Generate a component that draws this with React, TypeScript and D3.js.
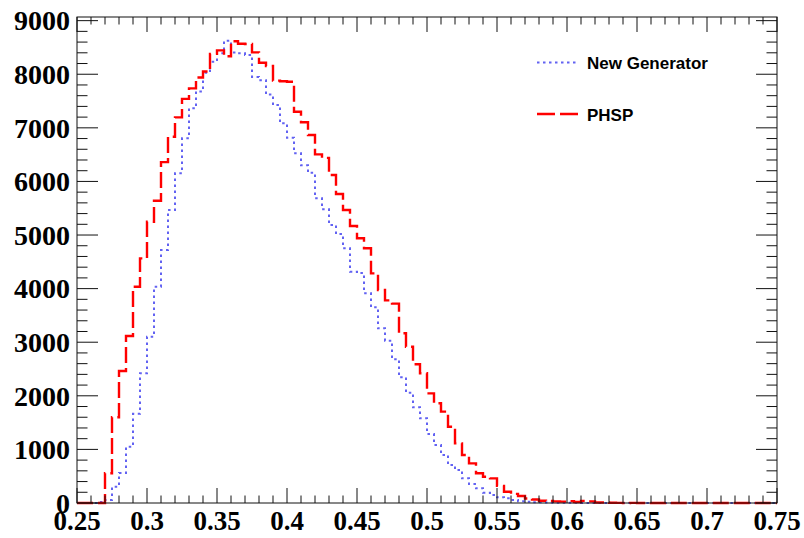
import React from "react";
import * as d3 from "d3";

// Histogram: 100 bins from 0.25 to 0.75 (bin width 0.005)
const xMin = 0.25;
const xMax = 0.75;
const nBins = 100;

// PHSP (red dashed) bin contents
const phsp: number[] = [
  0, 0, 0, 0, 554, 1599, 2463, 3116, 4036, 4565,
  5248, 5640, 6360, 6834, 7196, 7540, 7737, 7940, 8050, 8380,
  8445, 8335, 8615, 8570, 8563, 8408, 8215, 8153, 7880, 7870,
  7860, 7300, 7105, 6866, 6505, 6440, 6119, 5765, 5466, 5168,
  4939, 4752, 4285, 3974, 3780, 3720, 3166, 2916, 2590, 2420,
  2046, 1860, 1704, 1424, 1113, 896, 740, 554, 491, 460,
  320, 211, 170, 131, 85, 65, 43, 40, 30, 25,
  35, 20, 40, 30, 10, 8, 5, 3, 0, 2,
  0, 3, 0, 0, 2, 0, 0, 0, 0, 0,
  0, 0, 0, 0, 0, 0, 0, 0, 0, 0,
];

// New Generator (blue dotted) bin contents
const newGen: number[] = [
  0, 0, 0, 20, 56, 304, 560, 1050, 1665, 2420,
  3103, 4036, 4720, 5466, 6151, 6804, 7364, 7680, 8030, 8234,
  8390, 8625, 8405, 8390, 8360, 7950, 7890, 7620, 7425, 7084,
  6815, 6524, 6300, 6160, 5685, 5479, 5187, 5019, 4752, 4316,
  4290, 3912, 3651, 3259, 3028, 2681, 2345, 2058, 1785, 1580,
  1287, 1082, 896, 709, 616, 460, 354, 274, 193, 149,
  106, 87, 56, 31, 25, 15, 12, 8, 6, 5,
  4, 3, 2, 2, 1, 0, 1, 0, 0, 0,
  0, 0, 0, 0, 0, 0, 0, 0, 0, 0,
  0, 0, 0, 0, 0, 0, 0, 0, 0, 0,
];

const xTickValues = [0.25, 0.3, 0.35, 0.4, 0.45, 0.5, 0.55, 0.6, 0.65, 0.7, 0.75];
const xTickLabels = ["0.25", "0.3", "0.35", "0.4", "0.45", "0.5", "0.55", "0.6", "0.65", "0.7", "0.75"];
const yTickValues = [0, 1000, 2000, 3000, 4000, 5000, 6000, 7000, 8000, 9000];
const yTickLabels = ["0", "1000", "2000", "3000", "4000", "5000", "6000", "7000", "8000", "9000"];
const yMax = 9068;

const legendLabels = ["New Generator", "PHSP"];

const W = 804;
const H = 538;
const plot = { left: 77, right: 777, top: 17, bottom: 503 };

export default function App() {
  const x = d3.scaleLinear().domain([xMin, xMax]).range([plot.left, plot.right]);
  const y = d3.scaleLinear().domain([0, yMax]).range([plot.bottom, plot.top]);
  const bw = (xMax - xMin) / nBins;

  const stepPath = (vals: number[]) => {
    const pts: [number, number][] = vals.map((v, i) => [xMin + i * bw, v]);
    pts.push([xMax, vals[vals.length - 1]]);
    return d3
      .line<[number, number]>()
      .x((d) => x(d[0]))
      .y((d) => y(d[1]))
      .curve(d3.curveStepAfter)(pts) as string;
  };

  const xMinor = d3.range(0, 51).map((k) => xMin + k * 0.01);
  const yMinor = d3.range(0, 46).map((k) => k * 200).filter((v) => v <= yMax);

  const axisColor = "#111";
  const xMajLen = 15, xMinLen = 7.5, yMajLen = 21, yMinLen = 10.5;
  const labelFont = "'Liberation Serif', 'Times New Roman', serif";

  return (
    <svg
      width={W}
      height={H}
      style={{ position: "absolute", left: 0, top: 0, background: "#fff" }}
    >
      <rect x={0} y={0} width={W} height={H} fill="#fff" />
      {/* histograms */}
      <path d={stepPath(newGen)} fill="none" stroke="#6262f2" strokeWidth={2} strokeDasharray="2.5 3.5" />
      <path d={stepPath(phsp)} fill="none" stroke="#ff0000" strokeWidth={2.4} strokeDasharray="16 5" />

      {/* frame */}
      <rect
        x={plot.left}
        y={plot.top}
        width={plot.right - plot.left}
        height={plot.bottom - plot.top}
        fill="none"
        stroke={axisColor}
        strokeWidth={1}
      />
      {/* x ticks bottom and top */}
      {xMinor.map((v, i) => {
        const major = i % 5 === 0;
        const len = major ? xMajLen : xMinLen;
        const px = x(v);
        return (
          <g key={"xt" + i}>
            <line x1={px} x2={px} y1={plot.bottom} y2={plot.bottom - len} stroke={axisColor} strokeWidth={1} />
            <line x1={px} x2={px} y1={plot.top} y2={plot.top + len} stroke={axisColor} strokeWidth={1} />
          </g>
        );
      })}
      {/* y ticks left and right */}
      {yMinor.map((v, i) => {
        const major = v % 1000 === 0;
        const len = major ? yMajLen : yMinLen;
        const py = y(v);
        return (
          <g key={"yt" + i}>
            <line x1={plot.left} x2={plot.left + len} y1={py} y2={py} stroke={axisColor} strokeWidth={1} />
            <line x1={plot.right} x2={plot.right - len} y1={py} y2={py} stroke={axisColor} strokeWidth={1} />
          </g>
        );
      })}
      {/* x labels */}
      {xTickValues.map((v, i) => (
        <text
          key={"xl" + i}
          x={x(v)}
          y={530}
          textAnchor="middle"
          fontFamily={labelFont}
          fontWeight="bold"
          fontSize={27}
          fill="#000"
        >
          {xTickLabels[i]}
        </text>
      ))}
      {/* y labels */}
      {yTickValues.map((v, i) => (
        <text
          key={"yl" + i}
          x={70}
          y={y(v)}
          dy="0.35em"
          textAnchor="end"
          fontFamily={labelFont}
          fontWeight="bold"
          fontSize={28}
          fill="#000"
        >
          {yTickLabels[i]}
        </text>
      ))}
      {/* legend */}
      <line x1={537} x2={578} y1={62.5} y2={62.5} stroke="#6262f2" strokeWidth={2} strokeDasharray="2.5 3.5" />
      <text x={587} y={69} fontFamily="'Liberation Sans', Arial, sans-serif" fontWeight="bold" fontSize={17} fill="#000">
        {legendLabels[0]}
      </text>
      <line x1={537} x2={578} y1={114} y2={114} stroke="#ff0000" strokeWidth={2.4} strokeDasharray="18 5" />
      <text x={587} y={120.5} fontFamily="'Liberation Sans', Arial, sans-serif" fontWeight="bold" fontSize={17} fill="#000">
        {legendLabels[1]}
      </text>
    </svg>
  );
}
